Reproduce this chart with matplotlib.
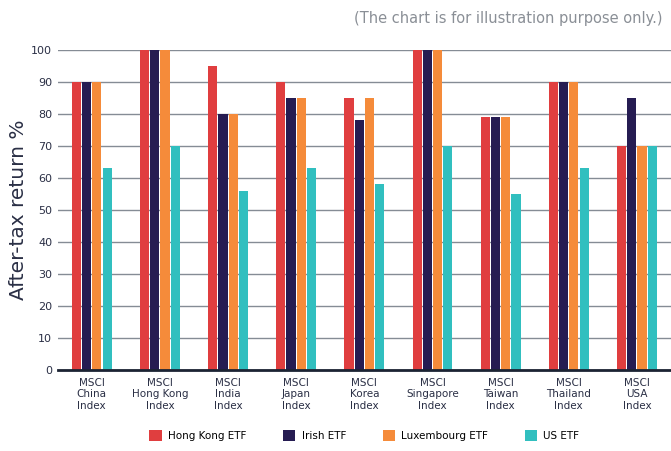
import matplotlib.pyplot as plt
import numpy as np

# Datos
indices = ['MSCI\nChina\nIndex', 'MSCI\nHong Kong\nIndex', 'MSCI\nIndia\nIndex',
           'MSCI\nJapan\nIndex', 'MSCI\nKorea\nIndex', 'MSCI\nSingapore\nIndex',
           'MSCI\nTaiwan\nIndex', 'MSCI\nThailand\nIndex', 'MSCI\nUSA\nIndex']
hong_kong_etf = [90, 100, 95, 90, 85, 100, 79, 90, 70]
irish_etf = [90, 100, 80, 85, 78, 100, 79, 90, 85]
luxembourg_etf = [90, 100, 80, 85, 85, 100, 79, 90, 70]
us_etf = [63, 70, 56, 63, 58, 70, 55, 63, 70]

series = [('Hong Kong ETF', hong_kong_etf, '#e03e3f'),
          ('Irish ETF', irish_etf, '#261c52'),
          ('Luxembourg ETF', luxembourg_etf, '#f58b3a'),
          ('US ETF', us_etf, '#31bfbf')]

plt.rcParams['font.family'] = ['DejaVu Sans']

fig = plt.figure(figsize=(6.71, 4.51), dpi=100)
ax = fig.add_axes([0.086, 0.18, 0.914, 0.709])

x = np.arange(len(indices))
ancho = 0.135
paso = 0.15
for i, (nombre, valores, color) in enumerate(series):
    ax.bar(x + (i - 1.5) * paso, valores, width=ancho, color=color, label=nombre, zorder=3)

ax.set_xlim(-0.5, len(indices) - 0.5)
ax.set_ylim(0, 100)
ax.set_yticks(range(0, 101, 10))
ax.set_xticks(x)
ax.set_xticklabels(indices, fontsize=7.5, color='#2a2f45', linespacing=1.15)
ax.tick_params(axis='y', labelsize=8, colors='#2a2f45', length=0, pad=4)
ax.tick_params(axis='x', length=0, pad=6)

ax.grid(axis='y', color='#858c95', linewidth=1.0, zorder=0)
for s in ['left', 'right', 'top']:
    ax.spines[s].set_visible(False)
ax.spines['bottom'].set_color('#1b2333')
ax.spines['bottom'].set_linewidth(2)
ax.spines['bottom'].set_zorder(4)

ax.set_ylabel('After-tax return %', fontsize=14.5, color='#2a2f45')
ax.yaxis.set_label_coords(-0.048, 0.5)

fig.text(0.987, 0.958, '(The chart is for illustration purpose only.)',
         ha='right', va='center', fontsize=10.5, color='#8a8f96')

ax.legend(loc='upper center', bbox_to_anchor=(0.5, -0.16), ncol=4, frameon=False,
          fontsize=7.5, handlelength=1.2, handleheight=1.2, columnspacing=3.5,
          handletextpad=0.6)

plt.savefig('out.png', dpi=100)
